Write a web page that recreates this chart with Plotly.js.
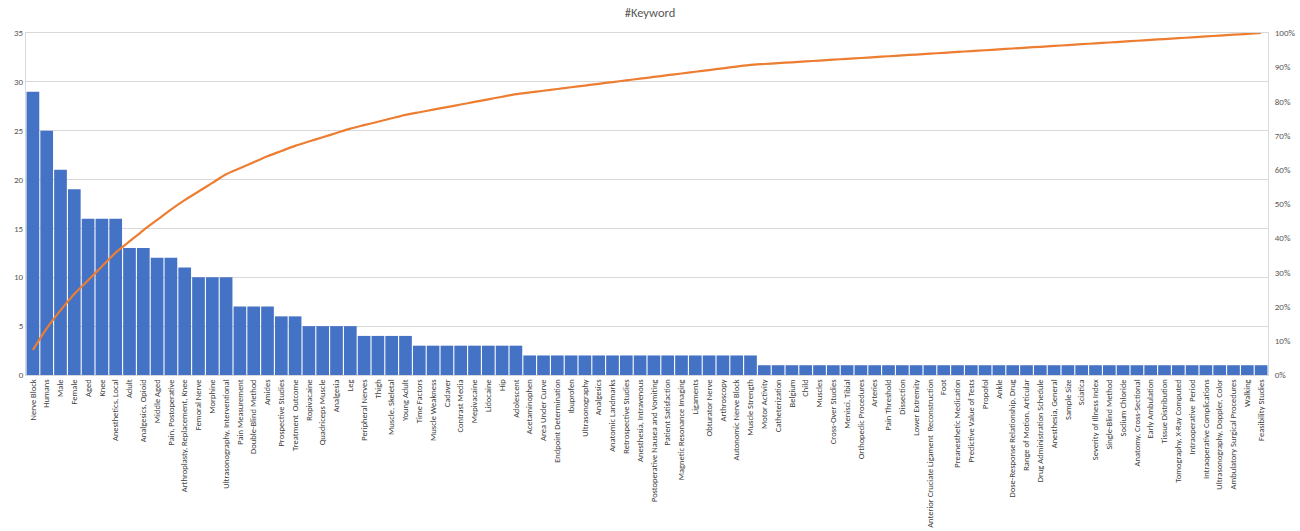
<!DOCTYPE html>
<html>
<head>
<meta charset="utf-8">
<script src="https://cdn.plot.ly/plotly-3.0.1.min.js"></script>
<style>html,body{margin:0;padding:0;background:#fff;}#chart{width:1300px;height:531px;}</style>
</head>
<body>
<div id="chart"></div>
<script>
const keywords = [
  "Nerve Block","Humans","Male","Female","Aged","Knee","Anesthetics, Local","Adult",
  "Analgesics, Opioid","Middle Aged","Pain, Postoperative","Arthroplasty, Replacement, Knee",
  "Femoral Nerve","Morphine","Ultrasonography, Interventional","Pain Measurement",
  "Double-Blind Method","Amides","Prospective Studies","Treatment  Outcome","Ropivacaine",
  "Quadriceps Muscle","Analgesia","Leg","Peripheral Nerves","Thigh","Muscle, Skeletal",
  "Young Adult","Time Factors","Muscle Weakness","Cadaver","Contrast Media","Mepivacaine",
  "Lidocaine","Hip","Adolescent","Acetaminophen","Area Under Curve","Endpoint Determination",
  "Ibuprofen","Ultrasonography","Analgesics","Anatomic Landmarks","Retrospective Studies",
  "Anesthesia, Intravenous","Postoperative Nausea and Vomiting","Patient Satisfaction",
  "Magnetic Resonance Imaging","Ligaments","Obturator Nerve","Arthroscopy",
  "Autonomic Nerve Block","Muscle Strength","Motor Activity","Catheterization","Belgium",
  "Child","Muscles","Cross-Over Studies","Menisci, Tibial","Orthopedic Procedures","Arteries",
  "Pain Threshold","Dissection","Lower Extremity","Anterior Cruciate Ligament  Reconstruction",
  "Foot","Preanesthetic Medication","Predictive Value of Tests","Propofol","Ankle",
  "Dose-Response Relationship, Drug","Range of Motion, Articular","Drug Administration Schedule",
  "Anesthesia, General","Sample Size","Sciatica","Severity of Illness Index","Single-Blind Method",
  "Sodium Chloride","Anatomy, Cross-Sectional","Early Ambulation","Tissue Distribution",
  "Tomography, X-Ray Computed","Intraoperative  Period","Intraoperative Complications",
  "Ultrasonography, Doppler, Color","Ambulatory Surgical Procedures","Walking","Feasibility Studies"
];
const counts = [
  29,25,21,19,16,16,16,13,13,12,12,11,10,10,10,7,7,7,6,6,5,5,5,5,4,4,4,4,
  3,3,3,3,3,3,3,3,
  2,2,2,2,2,2,2,2,2,2,2,2,2,2,2,2,2,
  1,1,1,1,1,1,1,1,1,1,1,1,1,1,1,1,1,
  1,1,1,1,1,1,1,1,1,1,1,1,1,1,1,1,1,1,1,1
];
const leftTicks = [0,5,10,15,20,25,30,35];
const rightTicks = [0,0.1,0.2,0.3,0.4,0.5,0.6,0.7,0.8,0.9,1.0];

const total = counts.reduce((a,b)=>a+b,0);
let run = 0;
const cumulative = counts.map(v => { run += v; return run / total; });

const idx = keywords.map((_, i) => i);
const fam = "Carlito, Lato, 'Open Sans', sans-serif";
const tickFont = {family: fam, size: 9, color: "#595959"};

const data = [
  {type: "bar", x: idx, y: counts, marker: {color: "#4472C4"}, name: "Count", hoverinfo: "y"},
  {type: "scatter", mode: "lines", x: idx, y: cumulative, yaxis: "y2",
   line: {color: "#ED7D31", width: 2.2, shape: "spline", smoothing: 0.6}, name: "Cumulative", hoverinfo: "y"}
];

const layout = {
  width: 1300, height: 531,
  margin: {l: 26, r: 32, t: 33, b: 156},
  paper_bgcolor: "#ffffff", plot_bgcolor: "#ffffff",
  showlegend: false,
  bargap: 0.08,
  title: {text: "#Keyword", x: 0.5, xanchor: "center", y: 0.985, yanchor: "top",
          font: {family: fam, size: 12.5, color: "#595959"}},
  xaxis: {
    tickmode: "array", tickvals: idx, ticktext: keywords, tickangle: -90,
    range: [-0.5, keywords.length - 0.5],
    tickfont: {family: fam, size: 8.5, color: "#404040"},
    showgrid: false, zeroline: false, showline: true, linecolor: "#d9d9d9", mirror: true,
    ticks: "", ticklen: 0
  },
  yaxis: {
    range: [0, 35], tickmode: "array", tickvals: leftTicks,
    tickfont: tickFont, showgrid: true, gridcolor: "#d9d9d9", gridwidth: 1,
    zeroline: false, showline: true, linecolor: "#d9d9d9", ticks: "", fixedrange: true
  },
  yaxis2: {
    overlaying: "y", side: "right", range: [0, 1],
    tickmode: "array", tickvals: rightTicks, tickformat: ".0%",
    tickfont: tickFont, showgrid: false, zeroline: false,
    showline: true, linecolor: "#d9d9d9", ticks: "", ticklabelstandoff: 4
  }
};

Plotly.newPlot("chart", data, layout, {displayModeBar: false, staticPlot: true});
</script>
</body>
</html>
